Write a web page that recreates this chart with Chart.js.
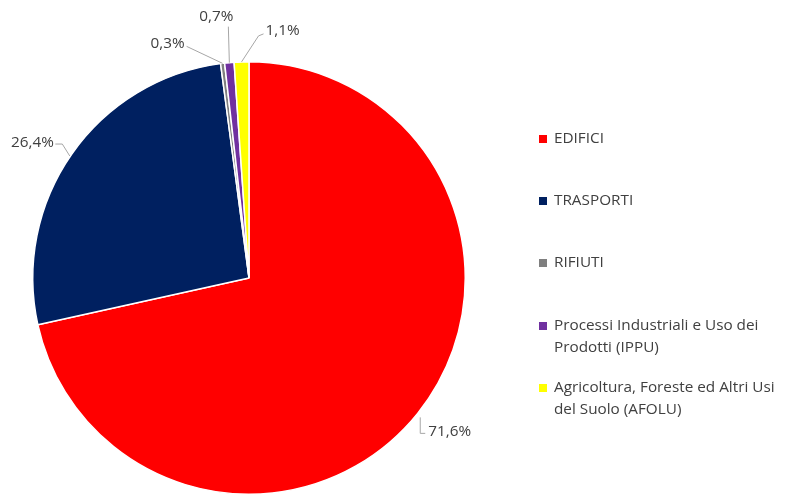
<!DOCTYPE html>
<html>
<head>
<meta charset="utf-8">
<script src="https://cdn.jsdelivr.net/npm/chart.js@4.4.0/dist/chart.umd.min.js"></script>
<style>
  html, body { margin: 0; padding: 0; background: #ffffff; }
  #wrap { width: 789px; height: 495px; position: relative; }
</style>
</head>
<body>
<div id="wrap"><canvas id="chart" width="789" height="495"></canvas></div>
<script>
// Emission shares by sector (%)
const categories = [
  'EDIFICI',
  'TRASPORTI',
  'RIFIUTI',
  'Processi Industriali e Uso dei Prodotti (IPPU)',
  'Agricoltura, Foreste ed Altri Usi del Suolo (AFOLU)'
];
const shares = [71.6, 26.4, 0.3, 0.7, 1.1];
const shareLabels = ['71,6%', '26,4%', '0,3%', '0,7%', '1,1%'];
// Legend text broken onto lines
const legendLines = [
  ['EDIFICI'],
  ['TRASPORTI'],
  ['RIFIUTI'],
  ['Processi Industriali e Uso dei', 'Prodotti (IPPU)'],
  ['Agricoltura, Foreste ed Altri Usi', 'del Suolo (AFOLU)']
];
const sliceColors = ['#FF0000', '#002060', '#7F7F7F', '#7030A0', '#FFFF00'];

const FONT = '15.3px "Open Sans", Lato, sans-serif';
const TEXT_COLOR = '#404040';

// Leader-line routes and label anchors, relative to the slice's outer mid point
const leaderStyle = [
  { path: [[2.6, 4], [2.6, 20], [7.6, 20]], text: [10.6, 18], align: 'left' },
  { path: [[-2, 2], [-9.5, -10], [-16.5, -10]], text: [-18, -11], align: 'right' },
  { path: [[0, 0], [-36, -17]], text: [-38, -20], align: 'right' },
  { path: [[0, 0], [-1, -36]], text: [-13, -46], align: 'center' },
  { path: [[0, 0], [17, -26], [22, -28]], text: [24, -31], align: 'left' }
];

const sliceLabels = {
  id: 'sliceLabels',
  afterDatasetsDraw(chart) {
    const ctx = chart.ctx;
    const arcs = chart.getDatasetMeta(0).data;
    ctx.save();
    arcs.forEach((arc, i) => {
      const p = arc.getProps(['x', 'y', 'startAngle', 'endAngle', 'outerRadius'], true);
      const mid = (p.startAngle + p.endAngle) / 2;
      const ex = p.x + Math.cos(mid) * p.outerRadius;
      const ey = p.y + Math.sin(mid) * p.outerRadius;
      const s = leaderStyle[i];
      ctx.strokeStyle = '#A6A6A6';
      ctx.lineWidth = 1;
      ctx.beginPath();
      s.path.forEach((pt, k) => {
        const px = ex + pt[0], py = ey + pt[1];
        if (k === 0) ctx.moveTo(px, py); else ctx.lineTo(px, py);
      });
      ctx.stroke();
      ctx.fillStyle = TEXT_COLOR;
      ctx.font = FONT;
      ctx.textAlign = s.align;
      ctx.textBaseline = 'middle';
      ctx.fillText(shareLabels[i], ex + s.text[0], ey + s.text[1]);
    });
    ctx.restore();
  }
};

const sideLegend = {
  id: 'sideLegend',
  afterDraw(chart) {
    const ctx = chart.ctx;
    const boxX = 539, boxSize = 8, textX = 554;
    const rowTops = [139, 201, 263, 326, 388];
    const lineGap = 21.5;
    ctx.save();
    ctx.font = FONT;
    ctx.textAlign = 'left';
    ctx.textBaseline = 'middle';
    legendLines.forEach((lines, i) => {
      const y = rowTops[i];
      ctx.fillStyle = sliceColors[i];
      ctx.fillRect(boxX, y - boxSize / 2, boxSize, boxSize);
      ctx.fillStyle = TEXT_COLOR;
      lines.forEach((t, k) => ctx.fillText(t, textX, y + k * lineGap));
    });
    ctx.restore();
  }
};

new Chart(document.getElementById('chart'), {
  type: 'pie',
  data: {
    labels: categories,
    datasets: [{
      data: shares,
      backgroundColor: sliceColors,
      borderColor: '#ffffff',
      borderWidth: 1.5,
      hoverOffset: 0
    }]
  },
  options: {
    responsive: false,
    animation: false,
    layout: { padding: { left: 32, top: 61, right: 323, bottom: 0 } },
    plugins: {
      legend: { display: false },
      tooltip: { enabled: false }
    }
  },
  plugins: [sliceLabels, sideLegend]
});
</script>
</body>
</html>
